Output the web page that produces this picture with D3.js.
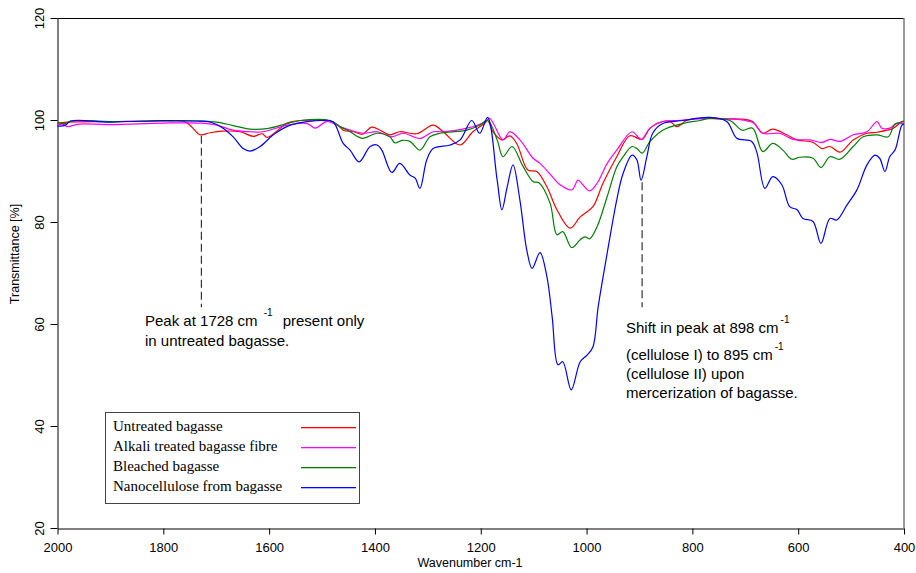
<!DOCTYPE html>
<html>
<head>
<meta charset="utf-8">
<script src="https://cdn.jsdelivr.net/npm/d3@7"></script>
<style>
  body { margin: 0; background: #fff; }
  svg { display: block; }
  .axis text { font-family: "Liberation Sans", Arial, sans-serif; font-size: 13px; fill: #000; }
  .axis path, .axis line { stroke: #000; }
  .note { font-family: "Liberation Sans", Arial, sans-serif; font-size: 15px; fill: #000; }
  .legend-label { font-family: "Liberation Serif", "Times New Roman", serif; font-size: 15px; fill: #000; }
</style>
</head>
<body>
<svg id="chart" width="916" height="573"></svg>
<script>
// wavenumber (cm-1), transmittance (%)
const untreated = [
  [2000, 99.4], [1982, 99.6], [1900, 99.7], [1800, 99.8], [1760, 99.7], [1745, 98.5],
  [1731, 97.1], [1712, 97.5], [1690, 97.8], [1655, 97.7], [1630, 96.8], [1613, 97.3],
  [1604, 96.6], [1580, 98.3], [1566, 99.4], [1541, 99.9], [1500, 99.9], [1485, 99.8],
  [1470, 99.0], [1460, 98.0], [1440, 97.7], [1424, 97.2], [1406, 98.6], [1390, 98.0],
  [1372, 97.1], [1353, 97.7], [1321, 97.3], [1290, 99.0], [1271, 97.7], [1239, 95.1],
  [1215, 97.7], [1192, 99.4], [1187, 99.9], [1177, 97.7], [1160, 96.1], [1145, 96.9],
  [1132, 95.4], [1111, 90.2], [1094, 89.9], [1075, 86.9], [1056, 82.4], [1031, 78.8],
  [1012, 81.0], [988, 83.0], [969, 87.6], [943, 92.8], [918, 96.9], [895, 96.2],
  [880, 98.4], [856, 99.7], [842, 99.7], [829, 98.7], [811, 99.9], [786, 100.3],
  [750, 100.2], [688, 99.8], [667, 97.4], [648, 98.2], [622, 97.1], [602, 96.1],
  [572, 95.6], [555, 94.4], [540, 94.8], [521, 93.7], [496, 96.1], [470, 97.4],
  [451, 97.6], [432, 98.0], [420, 98.4], [404, 99.7], [400, 99.8]
];
const alkali = [
  [2000, 99.0], [1990, 99.2], [1982, 98.7], [1960, 99.2], [1900, 99.1], [1800, 99.4],
  [1731, 99.4], [1699, 99.0], [1668, 98.0], [1636, 97.7], [1612, 97.7], [1566, 99.0],
  [1528, 99.3], [1513, 98.4], [1491, 99.7], [1466, 98.7], [1447, 98.0], [1422, 97.4],
  [1396, 97.7], [1368, 96.7], [1347, 97.4], [1315, 96.4], [1290, 97.7], [1273, 97.7],
  [1226, 98.4], [1192, 99.6], [1183, 100.3], [1158, 96.1], [1145, 97.7], [1126, 96.1],
  [1101, 92.5], [1088, 91.5], [1069, 89.4], [1050, 87.3], [1028, 86.3], [1016, 88.2],
  [1007, 87.3], [994, 86.1], [980, 87.6], [961, 91.5], [943, 94.1], [914, 97.7],
  [897, 96.2], [880, 98.4], [856, 99.7], [829, 99.9], [754, 100.3], [686, 99.5],
  [667, 97.4], [635, 97.4], [610, 96.2], [578, 96.1], [555, 95.6], [540, 96.2],
  [521, 95.8], [496, 97.1], [470, 97.7], [451, 99.7], [442, 98.4], [427, 98.4],
  [414, 99.3], [404, 99.3], [400, 99.4]
];
const bleached = [
  [2000, 99.5], [1985, 99.3], [1975, 99.8], [1900, 99.7], [1800, 99.8], [1731, 99.8],
  [1699, 99.6], [1668, 98.9], [1636, 98.2], [1604, 98.3], [1566, 99.3], [1541, 99.9],
  [1485, 99.9], [1466, 98.7], [1447, 97.7], [1424, 96.4], [1396, 97.4], [1372, 96.7],
  [1362, 95.5], [1349, 96.0], [1334, 95.8], [1315, 94.1], [1296, 96.7], [1277, 97.4],
  [1226, 98.0], [1202, 99.0], [1187, 99.9], [1169, 96.1], [1158, 92.8], [1141, 94.8],
  [1120, 90.9], [1101, 87.9], [1090, 87.7], [1069, 83.7], [1056, 77.5], [1045, 78.1],
  [1028, 75.0], [1012, 76.5], [1003, 77.1], [994, 76.7], [980, 79.1], [961, 85.0],
  [943, 90.8], [931, 92.8], [914, 94.8], [905, 94.4], [895, 93.5], [880, 95.8],
  [856, 98.0], [818, 99.3], [786, 99.9], [767, 100.3], [729, 99.9], [706, 98.0],
  [686, 98.4], [667, 93.8], [648, 95.4], [629, 94.1], [612, 92.3], [597, 92.7],
  [572, 92.5], [557, 90.7], [540, 92.8], [521, 92.3], [496, 94.8], [477, 96.7],
  [451, 97.1], [430, 96.7], [417, 99.2], [404, 99.6], [400, 99.7]
];
const nano = [
  [2000, 98.8], [1985, 99.0], [1975, 99.8], [1900, 99.6], [1800, 99.9], [1740, 99.8],
  [1712, 99.6], [1687, 98.4], [1668, 96.7], [1649, 94.4], [1636, 93.9], [1617, 94.8],
  [1592, 97.1], [1560, 99.0], [1498, 99.9], [1479, 99.6], [1460, 95.4], [1447, 94.1],
  [1430, 91.8], [1409, 94.8], [1396, 95.1], [1387, 94.1], [1368, 89.7], [1353, 91.5],
  [1334, 89.2], [1324, 88.6], [1315, 86.6], [1302, 92.2], [1290, 94.4], [1258, 95.1],
  [1239, 96.1], [1217, 99.9], [1202, 97.4], [1187, 100.5], [1169, 88.2], [1160, 82.4],
  [1150, 86.9], [1139, 91.2], [1126, 84.3], [1113, 74.5], [1103, 70.9], [1088, 74.0],
  [1075, 69.3], [1065, 61.4], [1054, 52.0], [1045, 52.6], [1029, 47.1], [1012, 52.6],
  [999, 53.9], [988, 55.5], [978, 63.4], [961, 73.9], [943, 84.3], [931, 89.5],
  [914, 93.1], [905, 92.2], [897, 88.2], [886, 92.8], [875, 97.4], [856, 99.3],
  [818, 99.9], [767, 100.5], [735, 99.7], [716, 96.4], [688, 95.8], [678, 93.6],
  [663, 86.6], [648, 88.9], [631, 87.3], [616, 83.0], [602, 82.4], [591, 80.7],
  [572, 80.1], [557, 75.8], [540, 80.7], [527, 80.4], [508, 83.3], [489, 86.3],
  [470, 91.2], [455, 93.1], [446, 92.5], [436, 89.9], [427, 92.8], [417, 94.1],
  [404, 99.0], [400, 99.2]
];

const seriesNames = ['Untreated bagasse', 'Alkali treated bagasse fibre', 'Bleached bagasse', 'Nanocellulose from bagasse'];
const seriesColors = ['#ff0000', '#ff00ff', '#008000', '#0000ff'];
const seriesData = [untreated, alkali, bleached, nano];

const xTicks = [2000, 1800, 1600, 1400, 1200, 1000, 800, 600, 400];
const yTicks = [20, 40, 60, 80, 100, 120];

const series = seriesNames.map((name, i) => ({ name, color: seriesColors[i], values: seriesData[i] }));

const svg = d3.select('#chart');
const x = d3.scaleLinear().domain([2000, 400]).range([57.5, 904]);
const y = d3.scaleLinear().domain([20, 120]).range([528, 18]);

// frame (top + right)
svg.append('line').attr('x1', 57.5).attr('x2', 904).attr('y1', 18.5).attr('y2', 18.5)
  .attr('stroke', '#000');
svg.append('line').attr('x1', 904).attr('x2', 904).attr('y1', 18).attr('y2', 528)
  .attr('stroke', '#777').attr('stroke-width', 1.5);

// axes
const xAxis = svg.append('g').attr('class', 'axis')
  .attr('transform', 'translate(0,528.5)')
  .call(d3.axisBottom(x).tickValues(xTicks).tickFormat(d3.format('d')).tickSize(6).tickSizeOuter(0));
xAxis.selectAll('text').attr('dy', null).attr('y', 23);

const yAxis = svg.append('g').attr('class', 'axis')
  .attr('transform', 'translate(57.5,0)')
  .call(d3.axisLeft(y).tickValues(yTicks).tickFormat(d3.format('d')).tickSize(7).tickSizeOuter(0));
yAxis.selectAll('text')
  .attr('x', null).attr('dy', null)
  .attr('text-anchor', 'middle')
  .attr('transform', 'translate(-14,0) rotate(-90)');

svg.append('text').attr('class', 'note')
  .attr('x', 470).attr('y', 567).attr('text-anchor', 'middle')
  .style('font-size', '12.5px')
  .text('Wavenumber cm-1');
svg.append('text').attr('class', 'note')
  .attr('transform', 'translate(19,254) rotate(-90)').attr('text-anchor', 'middle')
  .style('font-size', '12.5px')
  .text('Transmittance [%]');

// spectra
const line = d3.line()
  .x(d => x(d[0]))
  .y(d => y(d[1]))
  .curve(d3.curveCatmullRom.alpha(0.5));

svg.append('g').selectAll('path')
  .data(series)
  .join('path')
    .attr('d', d => line(d.values))
    .attr('fill', 'none')
    .attr('stroke', d => d.color)
    .attr('stroke-width', 1.2);

// annotations
const dashed = (wn, t0, t1) => svg.append('line')
  .attr('x1', x(wn)).attr('x2', x(wn))
  .attr('y1', y(t0)).attr('y2', y(t1))
  .attr('stroke', '#333').attr('stroke-width', 1.2)
  .attr('stroke-dasharray', '8,4');

dashed(1728, 96.9, 63.3);
dashed(895, 87.8, 63.3);

const note = (px, py, parts) => {
  const t = svg.append('text').attr('class', 'note').attr('x', px).attr('y', py);
  parts.forEach(p => {
    if (p.sup) {
      t.append('tspan').attr('dx', 2).attr('dy', -10).style('font-size', '10px').text(p.text);
      t.append('tspan').attr('dx', p.after ? 10 : 0).attr('dy', 10).text(p.after || '');
    } else {
      t.append('tspan').text(p.text);
    }
  });
};

note(145, 326, [{ text: 'Peak at 1728 cm ' }, { text: '-1', sup: true, after: 'present only' }]);
note(145, 346, [{ text: 'in untreated bagasse.' }]);
note(626, 333, [{ text: 'Shift in peak at 898 cm' }, { text: '-1', sup: true }]);
note(626, 360, [{ text: '(cellulose I) to 895 cm' }, { text: '-1', sup: true }]);
note(626, 379, [{ text: '(cellulose II) upon' }]);
note(626, 398, [{ text: 'mercerization of bagasse.' }]);

// legend
svg.append('rect')
  .attr('x', 105.5).attr('y', 412.5).attr('width', 254).attr('height', 91)
  .attr('fill', '#fff').attr('stroke', '#444');

svg.append('g').selectAll('text')
  .data(series)
  .join('text')
    .attr('class', 'legend-label')
    .attr('x', 113)
    .attr('y', (d, i) => 431 + i * 20)
    .text(d => d.name);

svg.append('g').selectAll('rect')
  .data(series)
  .join('rect')
    .attr('x', 301)
    .attr('y', (d, i) => 427 + i * 20)
    .attr('width', 55)
    .attr('height', 1.3)
    .attr('fill', d => d.color);
</script>
</body>
</html>
